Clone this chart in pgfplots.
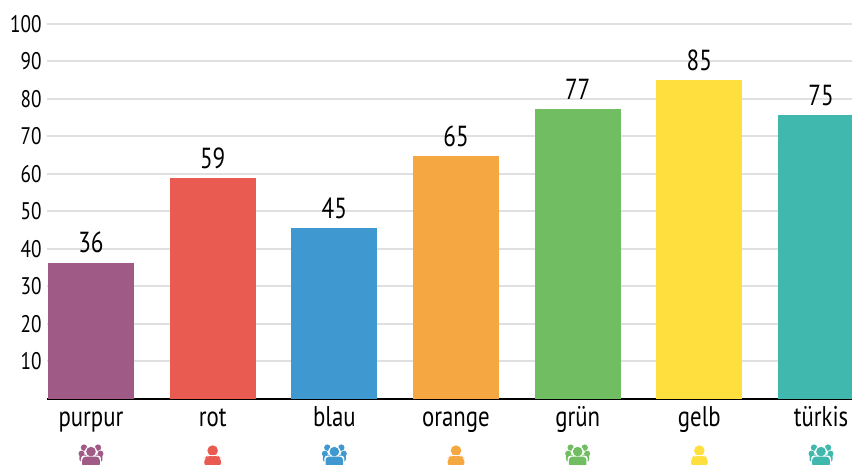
\documentclass[border=0pt]{standalone}
\usepackage{fontspec}
\setmainfont[FakeStretch=0.8]{PT Sans}
\usepackage{pgfplots}
\pgfplotsset{compat=1.18}
\definecolor{cpurpur}{HTML}{A05A86}
\definecolor{crot}{HTML}{E95B50}
\definecolor{cblau}{HTML}{4098D0}
\definecolor{corange}{HTML}{F5A742}
\definecolor{cgruen}{HTML}{70BD62}
\definecolor{cgelb}{HTML}{FFDF3D}
\definecolor{ctuerkis}{HTML}{41B8AE}
\definecolor{gridgrey}{HTML}{E0E0E0}

% person icons below the tick labels, origin at the icon centre (1pt = 1px)
\tikzset{
  person/.pic={
    \begin{scope}[x=1pt,y=1pt]
    \fill[#1] (0,5) circle (5.3pt);
    \fill[#1,rounded corners=5pt] (-8.5,-12) -- (-8.5,-2.5) -- (-5,0) -- (5,0) -- (8.5,-2.5) -- (8.5,-12) -- cycle;
    \fill[white] (0,0.6) ++(-6,0) arc (180:360:6pt and 1pt);
    \end{scope}
  },
  crowd/.pic={
    \begin{scope}[x=1pt,y=1pt]
    \fill[#1] (-7,8) circle (3.2pt) (7,8) circle (3.2pt);
    \fill[#1] (-9.5,2) circle (3pt) (9.5,2) circle (3pt);
    \fill[#1,rounded corners=2pt] (-11.5,-6) rectangle (11.5,1);
    \fill[white] (0,4) circle (6pt);
    \fill[white,rounded corners=3pt] (-10,-11) rectangle (10,0);
    \fill[#1] (0,4) circle (4.8pt);
    \fill[#1,rounded corners=3.5pt] (-8.8,-12) rectangle (8.8,-1);
    \end{scope}
  },
}

\begin{document}
\begin{tikzpicture}
\path[use as bounding box] (-47pt,-66pt) rectangle (805pt,399pt);
\begin{axis}[
  at={(0,0)}, anchor=south west,
  scale only axis, width=805pt, height=375pt,
  xmin=-0.3616, xmax=6.2547, ymin=0, ymax=100,
  ybar, bar width=86pt,
  axis x line=bottom, axis y line=left,
  axis line style={-}, y axis line style={draw=none},
  x axis line style={line width=1.6pt,black},
  xtick={0,1,2,3,4,5,6},
  xticklabels={purpur,rot,blau,orange,grün,gelb,türkis},
  ytick={10,20,30,40,50,60,70,80,90,100},
  major tick length=0pt,
  ymajorgrids, major grid style={draw=gridgrey,line width=2pt},
  yticklabel style={font=\fontsize{24}{24}\selectfont,xshift=-2pt},
  /pgf/number format/assume math mode=true,
  xticklabel style={font=\fontsize{28.5}{28}\selectfont,yshift=-7pt,text height=17pt,text depth=6pt},
  nodes near coords,
  nodes near coords style={font=\fontsize{29}{29}\selectfont,anchor=south,yshift=6pt,black},
  point meta=explicit symbolic,
  clip mode=individual,
]
\addplot+[draw=none,fill=cpurpur,bar shift=0pt] coordinates {(0,36.3) [36]};
\addplot+[draw=none,fill=crot,bar shift=0pt] coordinates {(1,58.9) [59]};
\addplot+[draw=none,fill=cblau,bar shift=0pt] coordinates {(2,45.6) [45]};
\addplot+[draw=none,fill=corange,bar shift=0pt] coordinates {(3,64.8) [65]};
\addplot+[draw=none,fill=cgruen,bar shift=0pt] coordinates {(4,77.3) [77]};
\addplot+[draw=none,fill=cgelb,bar shift=0pt] coordinates {(5,85) [85]};
\addplot+[draw=none,fill=ctuerkis,bar shift=0pt] coordinates {(6,75.7) [75]};
\path (axis cs:0,-15.1) pic {crowd=cpurpur};
\path (axis cs:1,-15.1) pic {person=crot};
\path (axis cs:2,-15.1) pic {crowd=cblau};
\path (axis cs:3,-15.1) pic {person=corange};
\path (axis cs:4,-15.1) pic {crowd=cgruen};
\path (axis cs:5,-15.1) pic {person=cgelb};
\path (axis cs:6,-15.1) pic {crowd=ctuerkis};
\end{axis}
\end{tikzpicture}
\end{document}
